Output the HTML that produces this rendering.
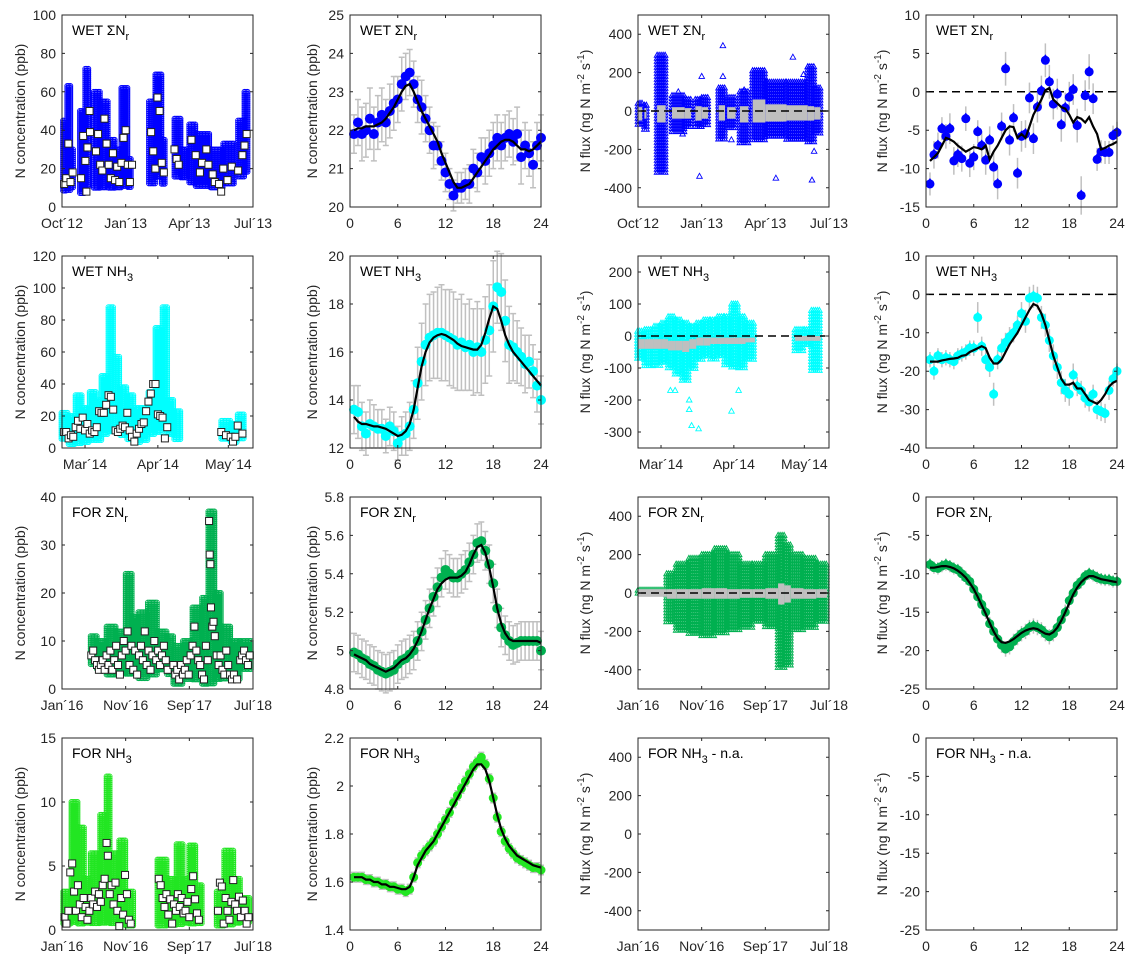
<!DOCTYPE html>
<html><head><meta charset="utf-8"><title>N concentration and flux panels</title>
<style>
html,body{margin:0;padding:0;background:#fff;}
svg{display:block;font-family:"Liberation Sans",Arial,sans-serif;}
</style></head>
<body>
<svg id="chart" width="1137" height="965" viewBox="0 0 1137 965" xmlns="http://www.w3.org/2000/svg"></svg>
<script>
// ---------- Panel 1: WET ΣNr concentration (months since Oct'12) ----------
const p1SegT0 = [0.05,0.25,0.45,0.85,1.1,1.5,1.8,2.2,2.5,2.8,3.1,4.1,4.4,4.7,5.3,5.6,6.0,6.3,7.0,7.6,8.3,8.6];
const p1SegT1 = [0.25,0.45,0.55,1.1,1.3,1.8,2.2,2.5,2.8,3.1,3.3,4.4,4.7,4.9,5.6,5.9,6.3,7.0,7.6,8.1,8.6,8.8];
const p1SegLo = [8,8,10,7,10,10,10,10,10,10,10,12,15,12,15,15,12,10,10,12,15,18];
const p1SegHi = [45,63,30,50,72,60,55,35,30,62,25,55,69,35,46,30,43,38,30,33,45,60];
const p1SqT = [0.1,0.2,0.3,0.4,0.5,0.9,1.0,1.1,1.15,1.2,1.3,1.32,1.6,1.7,1.8,1.9,2.0,2.1,2.2,2.3,2.4,2.5,2.6,2.7,2.8,2.9,3.0,3.1,3.2,3.3,4.2,4.3,4.4,4.5,4.6,4.7,4.8,5.3,5.4,5.5,6.1,6.3,6.5,6.6,6.8,6.9,7.1,7.2,7.4,7.5,7.6,7.8,8.0,8.3,8.5,8.6,8.7];
const p1SqV = [12,15,33,13,18,15,37,24,8,31,50,39,29,38,22,19,46,33,22,15,28,14,21,13,23,36,40,22,13,22,39,29,20,57,50,23,18,30,25,22,35,27,18,23,30,22,17,13,12,8,20,14,21,19,27,32,38];

// ---------- Panel 2: WET ΣNr diurnal concentration ----------
const p2Pts = [21.9,22.2,21.9,22.0,22.3,21.9,22.2,22.4,22.2,22.5,22.7,22.8,23.2,23.4,23.5,23.2,22.8,22.6,22.3,22.0,21.6,21.6,21.2,20.9,20.6,20.3,20.5,20.5,20.6,20.6,21.0,20.9,21.3,21.2,21.4,21.6,21.8,21.6,21.8,21.9,21.7,21.9,21.3,21.6,21.4,21.1,21.6,21.8];
const p2Line = [22.0,22.05,22.05,22.1,22.1,22.1,22.15,22.2,22.3,22.45,22.6,22.8,23.0,23.15,23.2,23.0,22.75,22.5,22.3,22.1,21.9,21.7,21.4,21.15,20.9,20.65,20.5,20.5,20.55,20.6,20.75,20.9,21.05,21.2,21.35,21.5,21.6,21.7,21.75,21.75,21.7,21.6,21.5,21.5,21.45,21.5,21.6,21.7];
const p2Err = [0.5,0.6,0.7,0.7,0.8,0.7,0.7,0.7,0.6,0.7,0.7,0.6,0.7,0.6,0.6,0.6,0.6,0.7,0.6,0.6,0.6,0.5,0.5,0.5,0.4,0.4,0.4,0.4,0.4,0.5,0.5,0.5,0.5,0.6,0.6,0.6,0.6,0.6,0.6,0.6,0.6,0.7,0.7,0.6,0.6,0.6,0.6,0.6];

// ---------- Panel 3: WET ΣNr flux ----------
const p3SegT0 = [0.0,0.3,0.9,1.6,2.2,2.7,3.0,3.8,4.2,4.8,5.4,6.0,7.0,8.0,8.3];
const p3SegT1 = [0.2,0.4,1.3,2.2,2.5,3.0,3.3,4.1,4.6,5.2,6.0,7.0,8.0,8.3,8.6];
const p3SegLo = [-80,-100,-330,-120,-90,-90,-80,-150,-90,-170,-150,-140,-150,-170,-120];
const p3SegHi = [40,30,290,80,60,60,70,120,70,100,210,150,150,230,120];
const p3BandLo = [-50,-40,-60,-40,-40,-50,-40,-50,-40,-60,-60,-55,-50,-50,-45];
const p3BandHi = [20,15,30,20,15,25,20,30,20,25,60,35,30,25,20];
const p3OutT = [1.9,2.1,3.0,2.9,4.0,4.0,4.4,5.0,6.5,7.3,7.8,8.2,8.3,8.0];
const p3OutV = [100,-120,180,-340,340,180,-150,110,-350,280,190,-360,-210,230];

// ---------- Panel 4: WET ΣNr diurnal flux ----------
const p4Pts = [-12,-8.2,-7,-4.8,-5.8,-4.8,-9,-8.2,-8.7,-3.5,-9.3,-8.5,-5.2,-7,-8.9,-6.3,-9.8,-12,-4.5,3,-6.3,-3.4,-10.6,-5.8,-5.5,-0.8,-6.1,-2,0.1,4.1,1.3,-1.6,-0.3,-4.3,-2.1,-0.7,0.3,-4.4,-13.5,-0.5,2.6,-0.9,-8.8,-7.8,-7.9,-7.9,-5.7,-5.3];
const p4Line = [-9,-8.5,-8,-7,-6,-6.2,-6.5,-7,-7.4,-7.8,-7.5,-7.2,-7.3,-7.5,-7,-8.8,-7.8,-7,-6,-5,-4.5,-4.6,-6,-5.5,-6,-4.5,-3,-2,-1,0.2,0.5,-1,-1.5,-2,-2.2,-3,-4,-3.3,-3.5,-4,-3.3,-4.5,-5.5,-7.5,-7.3,-7,-6.8,-6.5];
const p4Err = [1.5,1.8,1.7,1.5,1.6,2,1.8,1.6,1.7,1.6,1.8,1.7,1.5,1.8,1.9,1.8,1.9,2,1.8,2.2,2,1.8,2,2,1.8,2,2,2,2,2.2,2.2,2,2,2.2,2,2,2,2.2,2.5,2,2.3,2,1.5,1.5,1.5,1.5,1.3,1.4];

// ---------- Panel 5: WET NH3 concentration (days since 1 Mar'14) ----------
const p5SegT0 = [-10,-7,-4,-1,2,5,7,10,12,15,18,21,24,27,30,33,35,38,58,62,65];
const p5SegT1 = [-7,-4,-1,2,5,7,10,12,15,18,21,24,27,30,33,35,38,41,62,65,68];
const p5SegLo = [5,2,3,3,5,5,8,10,10,8,5,3,5,8,10,12,8,5,5,3,5];
const p5SegHi = [22,20,33,25,35,30,45,88,57,38,33,25,25,35,75,88,30,23,17,15,21];
const p5SqT = [-9,-8,-7,-6,-5,-4,-3,-2,-1,0,1,2,3,4,5,6,7,8,9,10,11,12,13,14,15,16,17,18,19,20,21,22,23,24,25,26,27,28,29,30,31,32,33,34,35,58,60,62,63,64,65,67];
const p5SqV = [10,10,6,8,7,13,17,12,19,11,15,9,11,10,13,23,22,22,27,33,32,24,11,10,12,14,13,22,11,7,4,9,12,15,16,23,29,34,40,40,21,20,19,6,13,10,8,7,4,7,14,9];

// ---------- Panel 6: WET NH3 diurnal concentration ----------
const p6Pts = [13.6,13.5,12.9,12.6,13.0,12.9,12.8,12.8,12.5,12.9,12.7,12.2,12.5,12.6,12.9,13.6,14.7,15.6,16.3,16.6,16.7,16.8,16.8,16.7,16.6,16.5,16.3,16.4,16.2,16.3,16.0,16.2,16.0,16.5,16.9,17.9,18.7,18.5,17.3,16.3,16.2,16.0,15.8,15.5,15.6,15.2,14.6,14.0];
const p6Line = [13.3,13.1,13.0,13.0,12.95,12.9,12.9,12.85,12.8,12.7,12.6,12.5,12.55,12.7,13.0,13.6,14.5,15.4,16.0,16.4,16.6,16.7,16.75,16.7,16.6,16.5,16.35,16.25,16.2,16.15,16.1,16.1,16.3,16.8,17.4,17.9,17.8,17.3,16.7,16.3,16.0,15.8,15.6,15.4,15.2,15.0,14.8,14.6];
const p6Err = [1.0,1.1,1.0,0.9,1.0,0.9,0.8,0.8,0.7,0.8,0.8,0.7,0.8,0.9,1.0,1.2,1.5,1.6,1.7,1.8,1.8,1.9,2.0,1.9,2.0,2.0,1.9,2.0,1.8,1.9,1.8,1.9,1.8,1.8,1.9,1.9,1.5,1.6,1.7,1.6,1.4,1.3,1.2,1.2,1.1,1.1,1.1,1.0];

// ---------- Panel 7: WET NH3 flux ----------
const p7SegT0 = [-10,-7,-3,0,3,6,9,12,15,18,21,24,27,30,33,36,57,61,64];
const p7SegT1 = [-7,-3,0,3,6,9,12,15,18,21,24,27,30,33,36,40,61,64,68];
const p7SegLo = [-75,-100,-100,-90,-100,-120,-140,-110,-80,-70,-80,-70,-90,-100,-100,-80,-50,-30,-110];
const p7SegHi = [15,20,30,40,60,50,40,30,40,50,50,60,60,100,60,40,20,20,80];
const p7BandLo = [-40,-40,-40,-40,-45,-45,-50,-40,-30,-30,-25,-25,-25,-25,-25,-20,-15,-15,-15];
const p7BandHi = [-10,-10,-10,-10,-15,-15,-15,-10,-5,-5,-5,-5,-5,-5,-5,-5,0,0,0];
const p7OutT = [4,6,12,12,13,16,30,33];
const p7OutV = [-170,-170,-200,-230,-280,-290,-235,-170];

// ---------- Panel 8: WET NH3 diurnal flux ----------
const p8Pts = [-17,-20,-16,-17,-16.5,-17,-17.5,-16,-15.5,-15,-14,-14,-6,-13.5,-17,-19,-26,-17,-14,-12.5,-11,-10,-8,-5,-7,-1,-0.5,-1,-6,-8,-12,-16,-19,-23,-25,-26,-21,-24,-25,-27,-28,-26,-30,-30.5,-31,-25,-22,-20];
const p8Line = [-17.5,-17.5,-17.5,-17.2,-17,-16.8,-16.7,-16.5,-16,-15.8,-15,-14.5,-14,-13.5,-14,-16.5,-18,-18,-17,-15,-13,-11.5,-10,-8,-6,-4,-2.5,-3,-5,-8,-12,-16,-19,-22,-23.5,-23.5,-23,-24.5,-24.5,-26,-27.5,-28,-28.5,-27.5,-26,-24,-23,-22.5];
const p8Err = [2,2.2,2,2,2,2,2,2,2,2,2,2,4,2.5,2.5,2.5,3,2.5,2.5,2.5,2.5,2.5,2.5,3,3,3,3,3,3,3,3,3,3,3,3,3,3,2.5,2.5,2.5,2.5,2.5,2.5,2.5,2.5,2.5,2,2];

// ---------- Panel 9: FOR ΣNr concentration (months since Jan'16) ----------
const p9SegT0 = [4.5,5.5,7,8.5,10,11,12,13.5,15,16.5,17.5,19,20.5,22,23,24,25,26.5,28];
const p9SegT1 = [5.5,7,8.5,10,11,12,13.5,15,16.5,17.5,19,20.5,22,23,24,25,26.5,28,29.7];
const p9SegLo = [5,4,3,3,3,3,2,3,4,3,1,2,2,1,1,2,2,2,4];
const p9SegHi = [11,10,13,12,24,15,16,18,12,11,9,10,17,19,37,20,13,10,10];
const p9SqT = [4.6,4.9,5.2,5.5,5.8,6.1,6.4,6.7,7,7.3,7.6,7.9,8.2,8.5,8.8,9.1,9.4,9.7,10,10.3,10.6,10.9,11.2,11.5,11.8,12.1,12.4,12.7,13,13.3,13.6,13.9,14.2,14.5,14.8,15.1,15.4,15.7,16,16.3,16.6,17.5,17.8,18.1,18.4,18.7,19,19.3,19.6,19.9,20.2,20.5,20.8,21.1,21.4,21.7,22,22.3,22.6,22.9,23.1,23.2,23.3,23.4,23.6,23.8,24,24.3,24.6,24.9,25.2,25.5,25.8,26.1,26.4,26.7,27,27.5,28,28.3,28.6,28.9,29.2,29.5];
const p9SqV = [7,8,6,5,4,5,6,4,7,5,8,4,6,9,5,3,7,10,8,12,5,9,4,8,3,7,9,6,12,5,8,4,7,10,6,8,5,7,9,6,4,5,3,4,2,5,3,4,6,3,7,9,13,8,6,5,3,2,9,6,35,28,26,17,13,14,11,7,5,7,4,3,8,5,3,2,3,2,6,7,8,6,5,7];

// ---------- Panel 10: FOR ΣNr diurnal concentration ----------
const p10Pts = [4.99,4.98,4.96,4.95,4.93,4.92,4.90,4.89,4.88,4.89,4.90,4.93,4.95,4.96,4.98,5.00,5.05,5.10,5.16,5.22,5.28,5.33,5.38,5.42,5.40,5.38,5.38,5.40,5.42,5.46,5.50,5.56,5.57,5.52,5.45,5.35,5.22,5.12,5.08,5.05,5.03,5.04,5.05,5.05,5.05,5.05,5.05,5.00];
const p10Line = [4.98,4.97,4.96,4.95,4.93,4.92,4.91,4.90,4.89,4.90,4.91,4.93,4.95,4.96,4.98,5.01,5.05,5.10,5.16,5.22,5.27,5.32,5.35,5.37,5.38,5.38,5.38,5.39,5.41,5.45,5.50,5.54,5.55,5.51,5.43,5.33,5.22,5.14,5.09,5.06,5.05,5.05,5.05,5.05,5.05,5.05,5.05,5.04];
const p10Err = [0.1,0.1,0.1,0.1,0.1,0.1,0.1,0.1,0.1,0.1,0.1,0.1,0.1,0.1,0.1,0.1,0.1,0.1,0.1,0.1,0.1,0.1,0.1,0.1,0.1,0.1,0.1,0.1,0.1,0.1,0.1,0.1,0.1,0.1,0.1,0.1,0.1,0.1,0.1,0.1,0.1,0.1,0.1,0.1,0.1,0.1,0.1,0.1];

// ---------- Panel 11: FOR ΣNr flux ----------
const p11SegT0 = [0,4.5,6,8,10,12,14,16,18,20,22,23,24,26,28];
const p11SegT1 = [4.5,6,8,10,12,14,16,18,20,22,23,24,26,28,29.7];
const p11SegLo = [-15,-150,-200,-220,-230,-220,-200,-180,-150,-180,-400,-380,-200,-180,-150];
const p11SegHi = [15,100,150,180,200,230,200,150,150,200,300,250,200,180,150];
const p11BandLo = [-20,-30,-30,-30,-30,-30,-30,-25,-25,-30,-60,-50,-30,-30,-25];
const p11BandHi = [20,20,20,20,25,25,20,20,20,25,50,40,25,20,20];

// ---------- Panel 12: FOR ΣNr diurnal flux ----------
const p12Pts = [-8.8,-9.2,-9.3,-9.0,-8.8,-9.0,-9.3,-9.5,-10.0,-10.5,-11.0,-12.0,-13.0,-14.0,-15.0,-16.5,-17.5,-18.5,-19.3,-19.8,-19.5,-18.8,-18.3,-17.8,-17.5,-17.0,-16.8,-17.0,-17.3,-17.8,-18.2,-17.8,-17.0,-16.0,-15.0,-13.5,-12.5,-11.5,-11.0,-10.3,-10.0,-10.2,-10.5,-10.7,-10.8,-10.8,-11.0,-11.0];
const p12Line = [-9.2,-9.2,-9.1,-9.0,-9.0,-9.1,-9.3,-9.6,-10.0,-10.5,-11.2,-12.0,-13.0,-14.1,-15.2,-16.4,-17.5,-18.4,-18.9,-19.0,-18.8,-18.5,-18.1,-17.7,-17.4,-17.2,-17.1,-17.2,-17.5,-17.8,-17.9,-17.6,-17.0,-16.1,-15.0,-13.8,-12.7,-11.8,-11.1,-10.6,-10.3,-10.3,-10.5,-10.7,-10.8,-10.9,-11.0,-11.1];
const p12Err = [0.8,0.8,0.8,0.8,0.8,0.8,0.8,0.8,0.9,0.9,0.9,0.9,0.9,0.9,0.9,0.9,1,1,1,1,1,1,1,1,1,1,1,1,1,1,1,1,1,1,1,1,0.9,0.9,0.9,0.8,0.8,0.8,0.8,0.8,0.8,0.8,0.8,0.8];

// ---------- Panel 13: FOR NH3 concentration ----------
const p13SegT0 = [0.2,1.5,2.5,3.5,4.5,6,7,7.5,9,10,15,16.5,18,19,20,21,24.3,25.5,27,28];
const p13SegT1 = [1.5,2.5,3.5,4.5,6,7,7.5,9,10,11.2,16.5,18,19,20,21,22,25.5,27,28,29.5];
const p13SegLo = [0.5,0.5,0.5,0.5,0.5,0.5,0.5,0.5,0.3,0.3,0.3,0.3,0.3,0.5,0.5,0.5,0.3,0.3,0.5,0.5];
const p13SegHi = [3,10,8,4,6,9,12,6,7,3,5.5,4,6.7,4,6.6,3.5,3,6.2,4,2.5];
const p13SqT = [0.4,0.7,1.0,1.3,1.6,1.9,2.2,2.5,2.8,3.1,3.4,3.7,4,4.3,4.6,4.9,5.2,5.5,5.8,6.1,6.4,6.7,7,7.2,7.5,7.8,8.1,8.4,8.7,9,9.3,9.6,9.9,10.2,10.5,10.8,15.2,15.5,15.8,16.1,16.4,16.7,17,17.3,17.6,17.9,18.2,18.5,18.8,19.1,19.4,19.7,20,20.3,20.6,20.9,21.2,21.5,24.5,24.8,25.1,25.4,25.7,26,26.3,26.6,26.9,27.2,27.5,27.8,28.1,28.4,28.7,29,29.3];
const p13SqV = [1,0.5,1.5,4.5,5.2,3,1.5,3.5,2,1,2.5,1.8,0.8,1.5,2.5,2,3,1.8,2.8,2.2,3.5,4,6.8,5.8,2.8,3.5,2,3.7,1.5,0.3,2.5,1.2,4.3,2.8,0.8,0.5,4,3.5,2.5,1.8,2.8,1.2,2.4,0.5,2,1.5,2.8,1.8,2.5,1.3,1.5,2.2,1,3.2,4.2,2.4,1.3,0.8,1.5,3.7,3.4,0.5,2.5,1.5,0.8,2.2,3.9,2,1.5,2.6,1,2.3,1.5,0.5,1];

// ---------- Panel 14: FOR NH3 diurnal concentration ----------
const p14Pts = [1.62,1.62,1.62,1.61,1.61,1.60,1.60,1.59,1.59,1.58,1.58,1.57,1.57,1.56,1.57,1.62,1.68,1.71,1.73,1.75,1.77,1.80,1.83,1.86,1.89,1.93,1.96,1.99,2.02,2.05,2.08,2.10,2.12,2.09,2.03,1.95,1.87,1.81,1.77,1.74,1.72,1.70,1.69,1.68,1.67,1.66,1.66,1.65];
const p14Line = [1.62,1.62,1.62,1.61,1.61,1.60,1.60,1.59,1.59,1.58,1.58,1.575,1.57,1.57,1.58,1.62,1.67,1.70,1.73,1.75,1.77,1.80,1.83,1.86,1.89,1.92,1.95,1.98,2.01,2.04,2.07,2.09,2.09,2.07,2.02,1.95,1.88,1.82,1.78,1.75,1.73,1.71,1.70,1.69,1.68,1.67,1.665,1.66];
const p14Err = [0.02,0.02,0.02,0.02,0.02,0.02,0.02,0.02,0.02,0.02,0.02,0.02,0.02,0.02,0.02,0.02,0.02,0.02,0.02,0.02,0.02,0.02,0.02,0.02,0.02,0.02,0.02,0.02,0.02,0.02,0.02,0.02,0.02,0.02,0.02,0.02,0.02,0.02,0.02,0.02,0.02,0.02,0.02,0.02,0.02,0.02,0.02,0.02];

// ---------- Tick labels ----------
const wetTimeTicks = [0,3,6,9];
const wetTimeLabels = ["Oct\u00b412","Jan\u00b413","Apr\u00b413","Jul\u00b413"];
const nh3TimeTicks = [0,31,61];
const nh3TimeLabels = ["Mar\u00b414","Apr\u00b414","May\u00b414"];
const forTimeTicks = [0,10,20,30];
const forTimeLabels = ["Jan\u00b416","Nov\u00b416","Sep\u00b417","Jul\u00b418"];
const hourTicks = [0,6,12,18,24];
const hourLabels = ["0","6","12","18","24"];
const hours = [];
for (let i = 1; i <= 48; i++) hours.push(i * 0.5);

const NS = "http://www.w3.org/2000/svg";
const svg = document.getElementById('chart');
const L = [62,350,638,926], T = [15,256,497,738], PW = 191, PH = 192;
const TXT = "#262626";

function mk(tag, parent) { const e = document.createElementNS(NS, tag); parent.appendChild(e); return e; }
function fmt(v) { return String(Math.round(v * 100) / 100); }

function axes(name, col, row, xmin, xmax, ymin, ymax, xt, xl, yt, ytitle, titleMain, titleSub, titleTail) {
  const g = mk('g', svg);
  
  
  const x0 = L[col], y0 = T[row];
  const sx = v => x0 + (v - xmin) / (xmax - xmin) * PW;
  const sy = v => y0 + PH - (v - ymin) / (ymax - ymin) * PH;
  const plot = mk('g', g);
  
  
  const frame = mk('g', g);
  
  
  const box = mk('rect', frame);
  
  
  box.setAttribute('x', x0); box.setAttribute('y', y0); box.setAttribute('width', PW); box.setAttribute('height', PH);
  box.setAttribute('fill', 'none'); box.setAttribute('stroke', TXT); box.setAttribute('stroke-width', '1');
  xt.forEach((v, i) => {
    const X = sx(v);
    const tk = mk('path', frame);
    
    
    tk.setAttribute('d', `M${X},${y0+PH}v-3M${X},${y0}v3`);
    tk.setAttribute('stroke', TXT);
    const t = mk('text', frame);
    
    
    t.setAttribute('x', X); t.setAttribute('y', y0 + PH + 21);
    t.setAttribute('text-anchor', 'middle'); t.setAttribute('font-size', '14'); t.setAttribute('fill', TXT);
    t.textContent = xl[i];
  });
  yt.forEach(v => {
    const Y = sy(v);
    const tk = mk('path', frame);
    
    
    tk.setAttribute('d', `M${x0},${Y}h3M${x0+PW},${Y}h-3`);
    tk.setAttribute('stroke', TXT);
    const t = mk('text', frame);
    
    
    t.setAttribute('x', x0 - 6); t.setAttribute('y', Y + 5);
    t.setAttribute('text-anchor', 'end'); t.setAttribute('font-size', '14'); t.setAttribute('fill', TXT);
    t.textContent = fmt(v);
  });
  const off = [42, 38, 53, 44][col];
  const yc = y0 + PH / 2;
  const yl = mk('text', frame);
  
  
  yl.setAttribute('transform', `translate(${x0 - off + 5},${yc}) rotate(-90)`);
  yl.setAttribute('text-anchor', 'middle'); yl.setAttribute('font-size', '14'); yl.setAttribute('fill', TXT);
  if (ytitle === 'conc') {
    yl.textContent = 'N concentration (ppb)';
  } else {
    const a = mk('tspan', yl); a.textContent = 'N flux (ng N m';
    const b = mk('tspan', yl); b.setAttribute('dy', '-6'); b.setAttribute('font-size', '10'); b.textContent = '-2';
    const c = mk('tspan', yl); c.setAttribute('dy', '6'); c.textContent = ' s';
    const d = mk('tspan', yl); d.setAttribute('dy', '-6'); d.setAttribute('font-size', '10'); d.textContent = '-1';
    const e = mk('tspan', yl); e.setAttribute('dy', '6'); e.textContent = ')';
  }
  const tt = mk('text', frame);
  
  
  tt.setAttribute('x', x0 + 10); tt.setAttribute('y', y0 + 20);
  tt.setAttribute('font-size', '14'); tt.setAttribute('fill', '#000');
  const m = mk('tspan', tt); m.textContent = titleMain;
  const s = mk('tspan', tt); s.setAttribute('dy', '5'); s.setAttribute('font-size', '11'); s.textContent = titleSub;
  if (titleTail) { const r = mk('tspan', tt); r.setAttribute('dy', '-5'); r.textContent = titleTail; }
  return { sx, sy, plot, x0, y0 };
}

function denseCircles(ax, t0, t1, lo, hi, color, name) {
  let d = '';
  const r = 2.5;
  for (let i = 0; i < t0.length; i++) {
    const xa = ax.sx(t0[i]), xb = ax.sx(t1[i]);
    const ya = ax.sy(hi[i]), yb = ax.sy(lo[i]);
    for (let x = xa; x <= xb + 0.01; x += 1.5) {
      for (let y = ya; y <= yb + 0.01; y += 2) {
        d += `M${(x - r).toFixed(1)},${y.toFixed(1)}a${r},${r} 0 1,0 ${2*r},0a${r},${r} 0 1,0 ${-2*r},0`;
      }
    }
  }
  const p = mk('path', ax.plot);
  
  
  p.setAttribute('d', d); p.setAttribute('fill', 'none'); p.setAttribute('stroke', color); p.setAttribute('stroke-width', '0.9');
}

function squares(ax, ts, vs, name) {
  const g = mk('g', ax.plot);
  
  
  ts.forEach((t, i) => {
    const q = mk('rect', g);
    
    
    q.setAttribute('x', ax.sx(t) - 3.5); q.setAttribute('y', ax.sy(vs[i]) - 3.5);
    q.setAttribute('width', 7); q.setAttribute('height', 7);
    q.setAttribute('fill', '#fff'); q.setAttribute('stroke', '#222'); q.setAttribute('stroke-width', '1');
  });
}

function triPath(x, y) { return `M${x.toFixed(1)},${(y-3).toFixed(1)}l2.8,5h-5.6z`; }

function denseTriangles(ax, t0, t1, lo, hi, color, name) {
  let d = '';
  for (let i = 0; i < t0.length; i++) {
    const xa = ax.sx(t0[i]), xb = ax.sx(t1[i]);
    const ya = ax.sy(hi[i]), yb = ax.sy(lo[i]);
    for (let x = xa; x <= xb + 0.01; x += 2) {
      for (let y = ya; y <= yb + 0.01; y += 3) d += triPath(x, y);
    }
  }
  const p = mk('path', ax.plot);
  
  
  p.setAttribute('d', d); p.setAttribute('fill', 'none'); p.setAttribute('stroke', color); p.setAttribute('stroke-width', '1');
}

function outTriangles(ax, ts, vs, color, name) {
  let d = '';
  ts.forEach((t, i) => { d += triPath(ax.sx(t), ax.sy(vs[i])); });
  const p = mk('path', ax.plot);
  
  
  p.setAttribute('d', d); p.setAttribute('fill', 'none'); p.setAttribute('stroke', color); p.setAttribute('stroke-width', '0.9');
}

function band(ax, t0, t1, lo, hi, name) {
  const g = mk('g', ax.plot);
  
  
  t0.forEach((t, i) => {
    const r = mk('rect', g);
    
    
    r.setAttribute('x', ax.sx(t)); r.setAttribute('width', Math.max(1, ax.sx(t1[i]) - ax.sx(t)));
    r.setAttribute('y', ax.sy(hi[i])); r.setAttribute('height', ax.sy(lo[i]) - ax.sy(hi[i]));
    r.setAttribute('fill', '#bfbfbf');
  });
}

function zeroLine(ax, xmin, xmax, name) {
  const l = mk('line', ax.plot);
  
  
  l.setAttribute('x1', ax.sx(xmin)); l.setAttribute('x2', ax.sx(xmax));
  l.setAttribute('y1', ax.sy(0)); l.setAttribute('y2', ax.sy(0));
  l.setAttribute('stroke', '#000'); l.setAttribute('stroke-width', '1.5'); l.setAttribute('stroke-dasharray', '8,5');
}

function diurnal(ax, pts, line, err, color, r, caps, tri, name) {
  const eg = mk('g', ax.plot);
  
  
  hours.forEach((h, i) => {
    const X = ax.sx(h), Ya = ax.sy(pts[i] + err[i]), Yb = ax.sy(pts[i] - err[i]);
    const e = mk('path', eg);
    
    
    let d = `M${X},${Ya}V${Yb}`;
    if (caps) d += `M${X-3},${Ya}h6M${X-3},${Yb}h6`;
    e.setAttribute('d', d); e.setAttribute('stroke', '#c0c0c0'); e.setAttribute('stroke-width', '1.5'); e.setAttribute('fill', 'none');
  });
  const mg = mk('g', ax.plot);
  
  
  hours.forEach((h, i) => {
    const X = ax.sx(h), Y = ax.sy(pts[i]);
    const c = mk('circle', mg);
    
    
    c.setAttribute('cx', X); c.setAttribute('cy', Y); c.setAttribute('r', r); c.setAttribute('fill', color);
    if (tri) {
      const t = mk('path', mg);
      
      
      t.setAttribute('d', `M${X},${Y-6}l4.5,6h-9z`); t.setAttribute('fill', color);
    }
  });
  const lp = mk('path', ax.plot);
  
  
  lp.setAttribute('d', hours.map((h, i) => (i ? 'L' : 'M') + ax.sx(h).toFixed(1) + ',' + ax.sy(line[i]).toFixed(1)).join(''));
  lp.setAttribute('fill', 'none'); lp.setAttribute('stroke', '#000'); lp.setAttribute('stroke-width', '2.2');
}

const BLUE = '#0000ff', CYAN = '#00ffff', GREEN = '#00b050', LGREEN = '#22e622';

// Row 1
let a = axes('panel-wet-sumnr-conc', 0, 0, 0, 9, 0, 100, wetTimeTicks, wetTimeLabels, [0,20,40,60,80,100], 'conc', 'WET \u03a3N', 'r', '');
denseCircles(a, p1SegT0, p1SegT1, p1SegLo, p1SegHi, BLUE, 'half-hourly-concentration');
squares(a, p1SqT, p1SqV, 'daily-means');
a = axes('panel-wet-sumnr-diurnal-conc', 1, 0, 0, 24, 20, 25, hourTicks, hourLabels, [20,21,22,23,24,25], 'conc', 'WET \u03a3N', 'r', '');
diurnal(a, p2Pts, p2Line, p2Err, BLUE, 5, true, false, 'diurnal-conc');
a = axes('panel-wet-sumnr-flux', 2, 0, 0, 9, -500, 500, wetTimeTicks, wetTimeLabels, [-400,-200,0,200,400], 'flux', 'WET \u03a3N', 'r', '');
denseTriangles(a, p3SegT0, p3SegT1, p3SegLo, p3SegHi, BLUE, 'half-hourly-flux');
outTriangles(a, p3OutT, p3OutV, BLUE, 'flux-outliers');
band(a, p3SegT0, p3SegT1, p3BandLo, p3BandHi, 'flux-band');
zeroLine(a, 0, 9, 'zero-line');
a = axes('panel-wet-sumnr-diurnal-flux', 3, 0, 0, 24, -15, 10, hourTicks, hourLabels, [-15,-10,-5,0,5,10], 'flux', 'WET \u03a3N', 'r', '');
zeroLine(a, 0, 24, 'zero-line');
diurnal(a, p4Pts, p4Line, p4Err, BLUE, 4.5, false, true, 'diurnal-flux');

// Row 2
a = axes('panel-wet-nh3-conc', 0, 1, -9.8, 71.5, 0, 120, nh3TimeTicks, nh3TimeLabels, [0,20,40,60,80,100,120], 'conc', 'WET NH', '3', '');
denseCircles(a, p5SegT0, p5SegT1, p5SegLo, p5SegHi, CYAN, 'half-hourly-concentration');
squares(a, p5SqT, p5SqV, 'daily-means');
a = axes('panel-wet-nh3-diurnal-conc', 1, 1, 0, 24, 12, 20, hourTicks, hourLabels, [12,14,16,18,20], 'conc', 'WET NH', '3', '');
diurnal(a, p6Pts, p6Line, p6Err, CYAN, 5, true, false, 'diurnal-conc');
a = axes('panel-wet-nh3-flux', 2, 1, -9.8, 71.5, -350, 250, nh3TimeTicks, nh3TimeLabels, [-300,-200,-100,0,100,200], 'flux', 'WET NH', '3', '');
denseTriangles(a, p7SegT0, p7SegT1, p7SegLo, p7SegHi, CYAN, 'half-hourly-flux');
outTriangles(a, p7OutT, p7OutV, CYAN, 'flux-outliers');
band(a, p7SegT0, p7SegT1, p7BandLo, p7BandHi, 'flux-band');
zeroLine(a, -9.8, 70, 'zero-line');
a = axes('panel-wet-nh3-diurnal-flux', 3, 1, 0, 24, -40, 10, hourTicks, hourLabels, [-40,-30,-20,-10,0,10], 'flux', 'WET NH', '3', '');
zeroLine(a, 0, 24, 'zero-line');
diurnal(a, p8Pts, p8Line, p8Err, CYAN, 4.5, false, true, 'diurnal-flux');

// Row 3
a = axes('panel-for-sumnr-conc', 0, 2, 0, 30, 0, 40, forTimeTicks, forTimeLabels, [0,10,20,30,40], 'conc', 'FOR \u03a3N', 'r', '');
denseCircles(a, p9SegT0, p9SegT1, p9SegLo, p9SegHi, GREEN, 'half-hourly-concentration');
squares(a, p9SqT, p9SqV, 'daily-means');
a = axes('panel-for-sumnr-diurnal-conc', 1, 2, 0, 24, 4.8, 5.8, hourTicks, hourLabels, [4.8,5,5.2,5.4,5.6,5.8], 'conc', 'FOR \u03a3N', 'r', '');
diurnal(a, p10Pts, p10Line, p10Err, GREEN, 5, true, false, 'diurnal-conc');
a = axes('panel-for-sumnr-flux', 2, 2, 0, 30, -500, 500, forTimeTicks, forTimeLabels, [-400,-200,0,200,400], 'flux', 'FOR \u03a3N', 'r', '');
denseTriangles(a, p11SegT0, p11SegT1, p11SegLo, p11SegHi, GREEN, 'half-hourly-flux');
band(a, p11SegT0, p11SegT1, p11BandLo, p11BandHi, 'flux-band');
zeroLine(a, 0, 30, 'zero-line');
a = axes('panel-for-sumnr-diurnal-flux', 3, 2, 0, 24, -25, 0, hourTicks, hourLabels, [-25,-20,-15,-10,-5,0], 'flux', 'FOR \u03a3N', 'r', '');
diurnal(a, p12Pts, p12Line, p12Err, GREEN, 4.5, false, true, 'diurnal-flux');

// Row 4
a = axes('panel-for-nh3-conc', 0, 3, 0, 30, 0, 15, forTimeTicks, forTimeLabels, [0,5,10,15], 'conc', 'FOR NH', '3', '');
denseCircles(a, p13SegT0, p13SegT1, p13SegLo, p13SegHi, LGREEN, 'half-hourly-concentration');
squares(a, p13SqT, p13SqV, 'daily-means');
a = axes('panel-for-nh3-diurnal-conc', 1, 3, 0, 24, 1.4, 2.2, hourTicks, hourLabels, [1.4,1.6,1.8,2,2.2], 'conc', 'FOR NH', '3', '');
diurnal(a, p14Pts, p14Line, p14Err, LGREEN, 4.5, true, false, 'diurnal-conc');
axes('panel-for-nh3-flux', 2, 3, 0, 30, -500, 500, forTimeTicks, forTimeLabels, [-400,-200,0,200,400], 'flux', 'FOR NH', '3', ' - n.a.');
axes('panel-for-nh3-diurnal-flux', 3, 3, 0, 24, -25, 0, hourTicks, hourLabels, [-25,-20,-15,-10,-5,0], 'flux', 'FOR NH', '3', ' - n.a.');
</script>
</body></html>
